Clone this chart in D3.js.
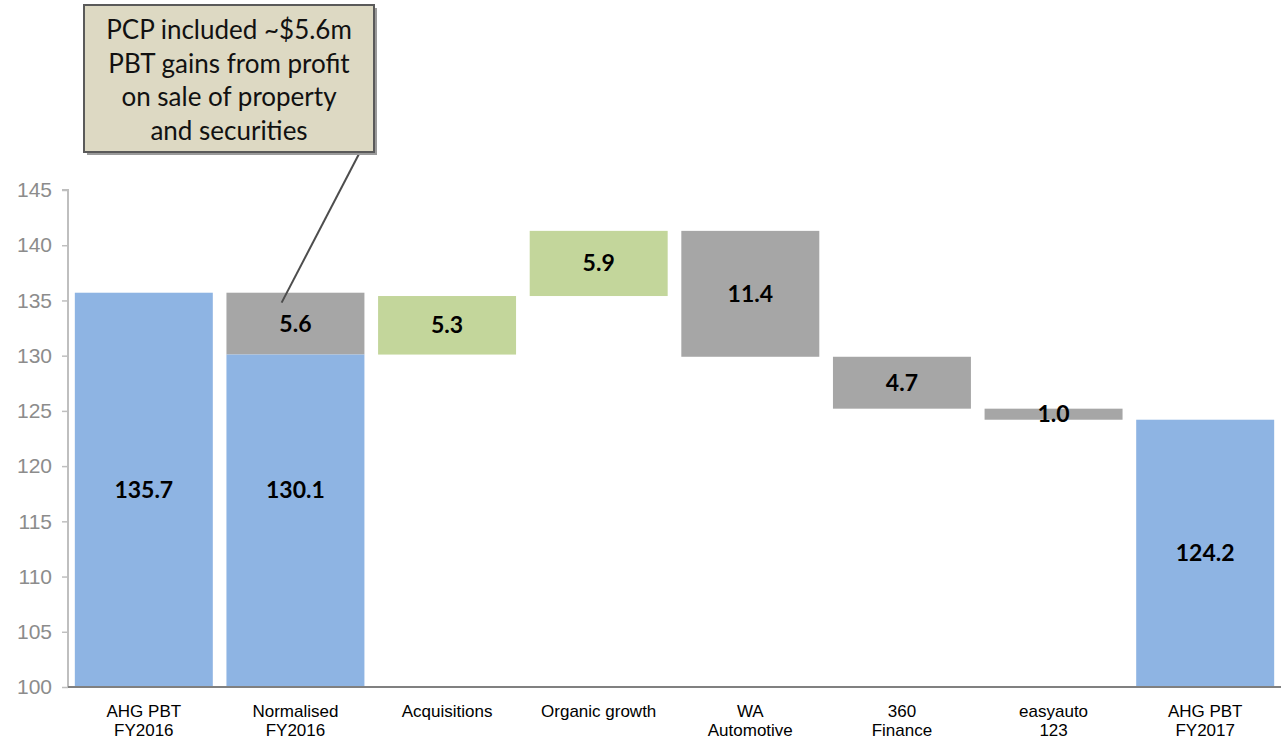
<!DOCTYPE html>
<html>
<head>
  <meta charset="utf-8">
  <script src="https://d3js.org/d3.v7.min.js"></script>
  <style>
    body { margin: 0; background: #fff; }
  </style>
</head>
<body>
  <div id="my_dataviz"></div>
  <script>
    // categories (two-line labels)
    var categories = [
      ["AHG PBT", "FY2016"],
      ["Normalised", "FY2016"],
      ["Acquisitions"],
      ["Organic growth"],
      ["WA", "Automotive"],
      ["360", "Finance"],
      ["easyauto", "123"],
      ["AHG PBT", "FY2017"]
    ];
    // total bars (from axis base), null where none
    var totals = [135.7, 130.1, null, null, null, null, null, 124.2];
    // floating changes, null where none
    var deltas = [null, -5.6, 5.3, 5.9, -11.4, -4.7, -1.0, null];
    var yTicks = [100, 105, 110, 115, 120, 125, 130, 135, 140, 145];
    var calloutLines = ["PCP included ~$5.6m", "PBT gains from profit", "on sale of property", "and securities"];

    var W = 1281, H = 747;
    var svg = d3.select("#my_dataviz").append("svg")
      .attr("width", W).attr("height", H);

    var x = d3.scaleBand()
      .domain(d3.range(categories.length))
      .range([68, 1281])
      .paddingInner(0.09)
      .paddingOuter(0.045);

    var y = d3.scaleLinear()
      .domain([100, 145])
      .range([687, 190]);

    var blue = "#8EB4E3", grey = "#A6A6A6", green = "#C3D69B";

    // build segments
    var segs = [];
    var level = totals[0];
    categories.forEach(function (c, i) {
      if (deltas[i] != null && i > 0) {
        var lo = Math.min(level, level + deltas[i]);
        var hi = Math.max(level, level + deltas[i]);
        segs.push({ i: i, lo: lo, hi: hi, color: deltas[i] < 0 ? grey : green,
          label: Math.abs(deltas[i]).toFixed(1), total: false });
        level = level + deltas[i];
      }
      if (totals[i] != null) {
        segs.push({ i: i, lo: 100, hi: totals[i], color: blue, label: totals[i].toFixed(1), total: true });
        level = totals[i];
      }
    });

    // bars
    svg.selectAll("rect.bar")
      .data(segs)
      .enter()
      .append("rect")
      .attr("class", "bar")
      .attr("x", function (d) { return x(d.i); })
      .attr("width", x.bandwidth())
      .attr("y", function (d) { return y(d.hi); })
      .attr("height", function (d) { return y(d.lo) - y(d.hi); })
      .attr("fill", function (d) { return d.color; });

    // value labels
    svg.selectAll("text.val")
      .data(segs)
      .enter()
      .append("text")
      .attr("class", "val")
      .attr("x", function (d) { return x(d.i) + x.bandwidth() / 2; })
      .attr("y", function (d) {
        if (d.total) {
          // centre on whole column height
          var top = d3.max(segs.filter(function (s) { return s.i === d.i; }), function (s) { return s.hi; });
          return (y(100) + y(top)) / 2;
        }
        return (y(d.lo) + y(d.hi)) / 2;
      })
      .attr("dy", "0.35em")
      .attr("text-anchor", "middle")
      .style("font-family", "Lato, 'Open Sans', sans-serif")
      .style("font-weight", "bold")
      .style("font-size", "23px")
      .style("fill", "#000")
      .text(function (d) { return d.label; });

    // y axis
    var yAxis = svg.append("g")
      .attr("transform", "translate(68,0)")
      .call(d3.axisLeft(y).tickValues(yTicks).tickSize(6).tickPadding(10));
    yAxis.select(".domain").attr("stroke", "#BFBFBF").attr("stroke-width", 2)
      .attr("d", "M-6," + y(145) + "H0V" + y(100));
    yAxis.selectAll(".tick line").attr("stroke", "#BFBFBF").attr("stroke-width", 1.5);
    yAxis.selectAll(".tick text")
      .style("font-family", "'Liberation Sans', Arial, sans-serif")
      .style("font-size", "21px")
      .style("fill", "#8C8C8C");

    // baseline
    svg.append("line")
      .attr("x1", 68).attr("x2", 1281)
      .attr("y1", y(100)).attr("y2", y(100))
      .attr("stroke", "#808080").attr("stroke-width", 2);

    // category labels
    var cat = svg.selectAll("text.cat")
      .data(categories)
      .enter()
      .append("text")
      .attr("class", "cat")
      .attr("x", function (d, i) { return x(i) + x.bandwidth() / 2; })
      .attr("y", 717)
      .attr("text-anchor", "middle")
      .style("font-family", "'Liberation Sans', Arial, sans-serif")
      .style("font-size", "17px")
      .style("fill", "#000");
    cat.selectAll("tspan")
      .data(function (d) { return d; })
      .enter()
      .append("tspan")
      .attr("x", function () { return this.parentNode.getAttribute("x"); })
      .attr("dy", function (d, j) { return j === 0 ? 0 : 19; })
      .text(function (d) { return d; });

    // callout box
    var bx = 84, by = 5, bw = 290, bh = 147;
    var tipX = x(1) + x.bandwidth() * 0.4, tipY = y(134.8);
    svg.append("line")
      .attr("x1", bx + bw - 14).attr("y1", by + bh)
      .attr("x2", tipX).attr("y2", tipY)
      .attr("stroke", "#4D4D4D").attr("stroke-width", 2);
    svg.append("rect")
      .attr("x", bx + 3).attr("y", by + 3)
      .attr("width", bw).attr("height", bh)
      .attr("fill", "#9A9A9A");
    svg.append("rect")
      .attr("x", bx).attr("y", by)
      .attr("width", bw).attr("height", bh)
      .attr("fill", "#DDD9C3")
      .attr("stroke", "#5A5A5A").attr("stroke-width", 2);
    svg.append("g").selectAll("text")
      .data(calloutLines)
      .enter()
      .append("text")
      .attr("x", bx + bw / 2)
      .attr("y", function (d, i) { return by + 34 + i * 33.5; })
      .attr("text-anchor", "middle")
      .style("font-family", "Lato, 'Open Sans', sans-serif")
      .style("font-size", "26px")
      .style("fill", "#111")
      .text(function (d) { return d; });
  </script>
</body>
</html>
